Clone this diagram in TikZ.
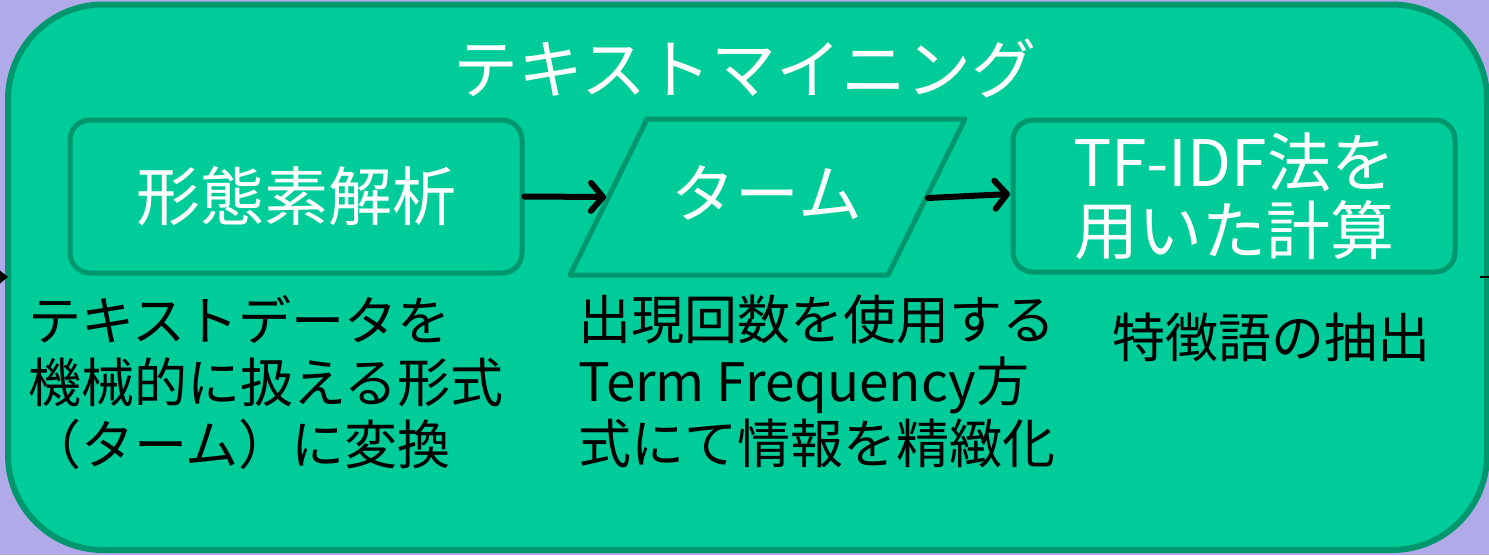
\documentclass[tikz,border=0pt]{standalone}
\usepackage{fontspec}
\setmainfont{Noto Sans CJK JP}
\usetikzlibrary{arrows.meta}
\definecolor{lav}{HTML}{B0ABE8}
\definecolor{gfill}{HTML}{00CC99}
\definecolor{gline}{HTML}{00966E}
\tikzset{
  stepbox/.style={draw=gline, line width=5pt, rounded corners=20pt, fill=gfill,
    minimum width=452pt, minimum height=153pt, text=white, align=center,
    font=\fontsize{64}{68}\selectfont, inner sep=0pt},
  flow/.style={line width=6pt, -{Straight Barb[round,length=12pt,width=28pt,line width=6pt 0]}, line cap=round},
  note/.style={anchor=north west, inner sep=0pt, align=left, text=black,
    font=\fontsize{53}{62}\selectfont},
}
\begin{document}
\begin{tikzpicture}[x=1pt,y=-1pt]
\useasboundingbox (0,0) rectangle (1489,555);
\fill[lav] (0,0) rectangle (1489,555);
% outer container
\draw[draw=gline, line width=6pt, fill=gfill, rounded corners=95pt] (8,4.5) rectangle (1487,550);
\node[text=white, font=\fontsize{65}{70}\selectfont, inner sep=0pt] (title) at (745,68) {テキストマイニング};
% boxes
\node[stepbox] (morph) at (296,196.5) {形態素解析};
\draw[draw=gline, line width=5pt, fill=gfill, line join=round] (570,275) -- (647,119) -- (965,119) -- (888,275) -- cycle;
\node[text=white, font=\fontsize{64}{68}\selectfont, inner sep=0pt] (term) at (767,193) {ターム};
\coordinate (termL) at (606,197);
\coordinate (termR) at (928,198);
\coordinate (tfidfW) at (1010,194);
\node[stepbox, minimum width=442pt, minimum height=152pt] (tfidf) at (1234,196) {TF-IDF法を\\用いた計算};
% connectors
\draw[flow] (morph.east) -- (termL);
\draw[flow] (termR) -- (tfidfW);
% partial external arrows
\coordinate (inL) at (-30,277);
\coordinate (inR) at (8,277);
\draw[line width=2pt, -{Triangle[length=9pt,width=14pt]}] (inL) -- (inR);
\coordinate (outL) at (1480,277);
\coordinate (outR) at (1500,277);
\draw[line width=2pt, -{Triangle[length=9pt,width=14pt]}] (outL) -- (outR);
% notes
\node[note] (n1) at (28,295) {テキストデータを\\機械的に扱える形式\\（ターム）に変換};
\node[note] (n2) at (578,295) {出現回数を使用する\\Term Frequency方\\式にて情報を精緻化};
\node[note] (n3) at (1112,313) {特徴語の抽出};
\end{tikzpicture}
\end{document}
